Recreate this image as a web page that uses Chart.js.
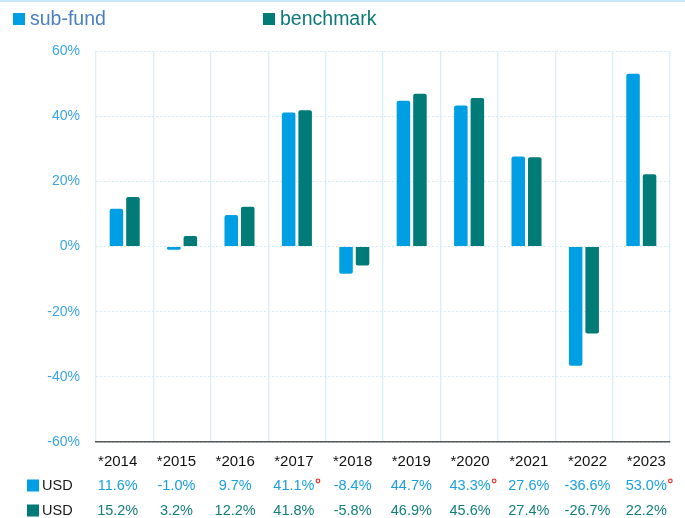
<!DOCTYPE html>
<html>
<head>
<meta charset="utf-8">
<script src="https://cdn.jsdelivr.net/npm/chart.js@4.4.1/dist/chart.umd.min.js"></script>
<style>
  html, body { margin: 0; padding: 0; background: #ffffff; }
  #wrap { position: relative; width: 685px; height: 518px; }
  canvas { display: block; }
</style>
</head>
<body>
<div id="wrap"><canvas id="c" width="685" height="518"></canvas></div>
<script>
const categories = ['*2014', '*2015', '*2016', '*2017', '*2018', '*2019', '*2020', '*2021', '*2022', '*2023'];
const subFund = [11.6, -1.0, 9.7, 41.1, -8.4, 44.7, 43.3, 27.6, -36.6, 53.0];
const benchmark = [15.2, 3.2, 12.2, 41.8, -5.8, 46.9, 45.6, 27.4, -26.7, 22.2];
const subFundFlags = [false, false, false, true, false, false, true, false, false, true];
const seriesNames = ['sub-fund', 'benchmark'];
const currencyLabel = 'USD';
const yTicks = [-60, -40, -20, 0, 20, 40, 60];

const COL_SUB = '#009fe3';
const COL_BEN = '#007b78';
const FONT = '"Liberation Sans", Arial, sans-serif';

function fmt(v) { return v.toFixed(1) + '%'; }

const overlayPlugin = {
  id: 'overlay',
  afterDraw(chart) {
    const ctx = chart.ctx;
    const xs = chart.scales.x;
    const area = chart.chartArea;
    const colX = i => xs.getPixelForValue(i) - 7 + i * 1.33;
    ctx.save();
    // top light band
    ctx.fillStyle = '#c8e7f7';
    ctx.fillRect(0, 0, chart.width, 2);

    // legend
    const legendItems = [
      { text: seriesNames[0], box: COL_SUB, color: '#4a7fc1', x: 13 },
      { text: seriesNames[1], box: COL_BEN, color: '#0d7a76', x: 263 }
    ];
    ctx.font = '19.5px ' + FONT;
    ctx.textBaseline = 'middle';
    ctx.textAlign = 'left';
    legendItems.forEach(it => {
      ctx.fillStyle = it.box;
      ctx.fillRect(it.x, 13, 12, 12);
      ctx.fillStyle = it.color;
      ctx.fillText(it.text, it.x + 17, 19.5);
    });

    // year labels
    ctx.font = '15px ' + FONT;
    ctx.fillStyle = '#111111';
    ctx.textAlign = 'center';
    categories.forEach((c, i) => ctx.fillText(c, colX(i), area.bottom + 19.5));

    // table rows
    const rows = [
      { vals: subFund, flags: subFundFlags, box: COL_SUB, color: '#1aa0e2', y: area.bottom + 43.5 },
      { vals: benchmark, flags: null, box: COL_BEN, color: '#127f7b', y: area.bottom + 68.5 }
    ];
    rows.forEach(r => {
      ctx.fillStyle = r.box;
      ctx.fillRect(27, r.y - 6, 12, 12);
      ctx.font = '14.5px ' + FONT;
      ctx.fillStyle = '#1a1a1a';
      ctx.textAlign = 'left';
      ctx.fillText(currencyLabel, 42, r.y);
      ctx.textAlign = 'center';
      r.vals.forEach((v, i) => {
        const x = colX(i);
        const t = fmt(v);
        ctx.fillStyle = r.color;
        ctx.fillText(t, x, r.y);
        if (r.flags && r.flags[i]) {
          const w = ctx.measureText(t).width;
          ctx.beginPath();
          ctx.strokeStyle = '#e8413c';
          ctx.lineWidth = 1.3;
          ctx.arc(x + w / 2 + 3.5, r.y - 4.5, 1.8, 0, Math.PI * 2);
          ctx.stroke();
        }
      });
    });
    ctx.restore();
  }
};

new Chart(document.getElementById('c'), {
  type: 'bar',
  data: {
    labels: categories,
    datasets: [
      { label: seriesNames[0], data: subFund, backgroundColor: COL_SUB, borderRadius: 2,
        categoryPercentage: 0.575, barPercentage: 0.82 },
      { label: seriesNames[1], data: benchmark, backgroundColor: COL_BEN, borderRadius: 2,
        categoryPercentage: 0.575, barPercentage: 0.82 }
    ]
  },
  options: {
    responsive: false,
    animation: false,
    devicePixelRatio: 1,
    layout: { padding: { top: 51, right: 15, bottom: 0, left: 0 } },
    plugins: { legend: { display: false }, tooltip: { enabled: false } },
    scales: {
      x: {
        grid: { display: true, offset: true, color: '#d8eefa', lineWidth: 1.3, drawTicks: false },
        border: { display: true, color: '#595959', width: 1.6 },
        ticks: { display: false, maxRotation: 0, autoSkip: false },
        afterFit(scale) { scale.height = 76; }
      },
      y: {
        min: -60, max: 60,
        afterBuildTicks(scale) { scale.ticks = yTicks.map(v => ({ value: v })); },
        grid: { color: '#d4ebf8', lineWidth: 1, drawTicks: false },
        border: { display: false, dash: [2, 2] },
        ticks: {
          color: '#3aa5e4', font: { family: FONT, size: 14 }, padding: 16,
          callback: v => v + '%'
        },
        afterFit(scale) { scale.width = 96; }
      }
    }
  },
  plugins: [overlayPlugin]
});
</script>
</body>
</html>
